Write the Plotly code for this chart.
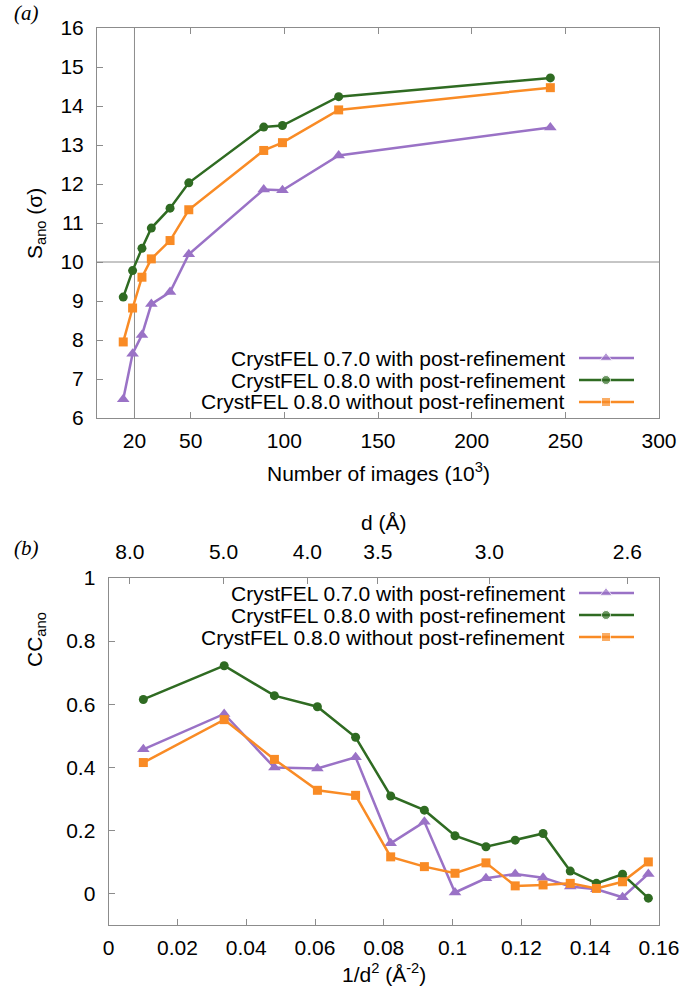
import plotly.graph_objects as go

# ---------------- data ----------------
series_names = [
    "CrystFEL 0.7.0 with post-refinement",
    "CrystFEL 0.8.0 with post-refinement",
    "CrystFEL 0.8.0 without post-refinement",
]

# panel (a): number of images (10^3) vs S_ano
images_k = [14, 19, 24, 29, 39, 49, 89, 99, 129, 242]
s_ano_070_pr = [6.48, 7.65, 8.13, 8.92, 9.23, 10.2, 11.86, 11.84, 12.73, 13.45]
s_ano_080_pr = [9.10, 9.78, 10.35, 10.87, 11.38, 12.03, 13.46, 13.50, 14.24, 14.72]
s_ano_080_nopr = [7.95, 8.82, 9.61, 10.08, 10.55, 11.34, 12.86, 13.06, 13.90, 14.47]
top_xtick_vals = [20, 50, 100, 150, 200, 250, 300]
ref_images_k = 20
ref_s_ano = 10

# panel (b): 1/d^2 vs CC_ano
inv_d2 = [0.0101, 0.0336, 0.0482, 0.0607, 0.0718, 0.0820, 0.0918, 0.1007,
          0.1097, 0.1182, 0.1263, 0.1342, 0.1418, 0.1494, 0.1569]
cc_070_pr = [0.457, 0.569, 0.399, 0.396, 0.432, 0.159, 0.227, 0.003,
             0.048, 0.062, 0.050, 0.022, 0.013, -0.012, 0.062]
cc_080_pr = [0.615, 0.722, 0.627, 0.592, 0.495, 0.309, 0.264, 0.183,
             0.148, 0.169, 0.190, 0.071, 0.032, 0.061, -0.015]
cc_080_nopr = [0.415, 0.551, 0.425, 0.327, 0.311, 0.116, 0.085, 0.064,
               0.097, 0.024, 0.027, 0.032, 0.016, 0.037, 0.100]
bot_xtick_vals = [0, 0.02, 0.04, 0.06, 0.08, 0.10, 0.12, 0.14, 0.16]
bot_xtick_text = ["0", "0.02", "0.04", "0.06", "0.08", "0.1", "0.12", "0.14", "0.16"]
bot_ytick_vals = [0, 0.2, 0.4, 0.6, 0.8, 1.0]
bot_ytick_text = ["0", "0.2", "0.4", "0.6", "0.8", "1"]
d_tick_text = ["8.0", "5.0", "4.0", "3.5", "3.0", "2.6"]
d_tick_pos = [0.0062, 0.0334, 0.0578, 0.0783, 0.1107, 0.1508]

# ---------------- style ----------------
W, H = 680, 990
FONT = "Liberation Sans, Arial, sans-serif"
FS = 21
AX = "#8c8c8c"
colors = ["#9a72c6", "#2f6b22", "#f98b25"]
symbols = ["triangle-up", "circle", "square"]
msizes = [11, 9, 9]
LW = 2.5

def px(x):
    return x / W

def py(y):
    return 1 - y / H

fig = go.Figure()

top_series = [s_ano_070_pr, s_ano_080_pr, s_ano_080_nopr]
bot_series = [cc_070_pr, cc_080_pr, cc_080_nopr]

for i in range(3):
    fig.add_trace(go.Scatter(
        x=images_k, y=top_series[i], mode="lines+markers", name=series_names[i],
        line=dict(color=colors[i], width=LW),
        marker=dict(symbol=symbols[i], size=msizes[i], color=colors[i]),
        xaxis="x", yaxis="y", showlegend=False, cliponaxis=False))
for i in range(3):
    fig.add_trace(go.Scatter(
        x=inv_d2, y=bot_series[i], mode="lines+markers", name=series_names[i],
        line=dict(color=colors[i], width=LW),
        marker=dict(symbol=symbols[i], size=msizes[i], color=colors[i]),
        xaxis="x2", yaxis="y2", showlegend=False, cliponaxis=False))
# invisible twin so that the top resolution (d) axis is drawn
fig.add_trace(go.Scatter(
    x=inv_d2, y=cc_080_pr, mode="markers", marker=dict(opacity=0),
    xaxis="x3", yaxis="y2", showlegend=False, hoverinfo="skip"))

# gnuplot-style key: text then sample on the right (pixel overlay axes)
key_rows_top = [358, 380, 402]
key_rows_bot = [593, 615, 637]
key_text_right = 567
key_line = [579, 606, 634]
annotations = []
for rows in (key_rows_top, key_rows_bot):
    for i in range(3):
        fig.add_trace(go.Scatter(
            x=key_line, y=[rows[i]] * 3, mode="lines+markers",
            line=dict(color=colors[i], width=LW),
            marker=dict(symbol=symbols[i], size=[0, msizes[i], 0], color=colors[i]),
            xaxis="x4", yaxis="y4", showlegend=False, hoverinfo="skip"))
        annotations.append(dict(
            x=px(key_text_right), y=py(rows[i]), xref="paper", yref="paper",
            text=series_names[i], showarrow=False, xanchor="right", yanchor="middle",
            font=dict(family=FONT, size=FS, color="black")))

# axis titles and panel labels
annotations += [
    dict(x=px(378), y=py(472), text="Number of images (10<sup>3</sup>)"),
    dict(x=px(36), y=py(224), text="S<sub>ano</sub> (σ)", textangle=-90),
    dict(x=px(384), y=py(522), text="d (Å)"),
    dict(x=px(36), y=py(640), text="CC<sub>ano</sub>", textangle=-90),
    dict(x=px(384), y=py(973), text="1/d<sup>2</sup> (Å<sup>-2</sup>)"),
]
for a in annotations[-5:]:
    a.update(xref="paper", yref="paper", showarrow=False, xanchor="center",
             yanchor="middle", font=dict(family=FONT, size=FS, color="black"))
for lab, yy in (("(a)", 13), ("(b)", 548)):
    annotations.append(dict(
        x=px(12), y=py(yy), xref="paper", yref="paper", text=f"<i>{lab}</i>",
        showarrow=False, xanchor="left", yanchor="middle",
        font=dict(family="Liberation Serif, serif", size=FS, color="black")))

common = dict(showgrid=False, zeroline=False, showline=True, linecolor=AX,
              linewidth=1, ticks="inside", ticklen=6, tickcolor=AX, automargin=False,
              tickfont=dict(family=FONT, size=FS, color="black"))

fig.update_layout(
    width=W, height=H, margin=dict(l=0, r=0, t=0, b=0, autoexpand=False),
    paper_bgcolor="white", plot_bgcolor="rgba(0,0,0,0)",
    showlegend=False,
    xaxis=dict(domain=[px(97), px(659)], range=[0, 300], tickvals=top_xtick_vals,
               anchor="y", mirror="allticks", ticklabelstandoff=4, **common),
    yaxis=dict(domain=[py(418), py(28)], range=[6, 16], dtick=1,
               anchor="x", mirror=True, ticklabelstandoff=8, **common),
    xaxis2=dict(domain=[px(108.6), px(659)], range=[0, 0.16],
                tickvals=bot_xtick_vals, ticktext=bot_xtick_text,
                anchor="y2", mirror=True, ticklabelstandoff=4, **common),
    yaxis2=dict(domain=[py(925), py(578)], range=[-0.1, 1],
                tickvals=bot_ytick_vals, ticktext=bot_ytick_text,
                anchor="x2", mirror=True, ticklabelstandoff=8, **common),
    xaxis3=dict(overlaying="x2", side="top", anchor="y2", range=[0, 0.16],
                tickvals=d_tick_pos, ticktext=d_tick_text, showgrid=False,
                zeroline=False, showline=False, ticks="inside", ticklen=6,
                tickcolor=AX, ticklabelstandoff=14, automargin=False,
                tickfont=dict(family=FONT, size=FS, color="black")),
    xaxis4=dict(domain=[0, 1], range=[0, W], visible=False, anchor="y4",
                fixedrange=True, automargin=False),
    yaxis4=dict(domain=[0, 1], range=[H, 0], visible=False, anchor="x4",
                fixedrange=True, automargin=False),
    annotations=annotations,
)

# reference lines at 20k images and S_ano = 10
fig.add_shape(type="line", xref="x", yref="y domain", x0=ref_images_k, x1=ref_images_k,
              y0=0, y1=1, line=dict(color=AX, width=1), layer="below")
fig.add_shape(type="line", xref="x domain", yref="y", x0=0, x1=1,
              y0=ref_s_ano, y1=ref_s_ano, line=dict(color=AX, width=1), layer="below")

fig.write_html(
    "out.html",
    config={"displayModeBar": False},
    post_script="document.body.style.margin='0px';document.body.style.overflow='hidden';",
)
